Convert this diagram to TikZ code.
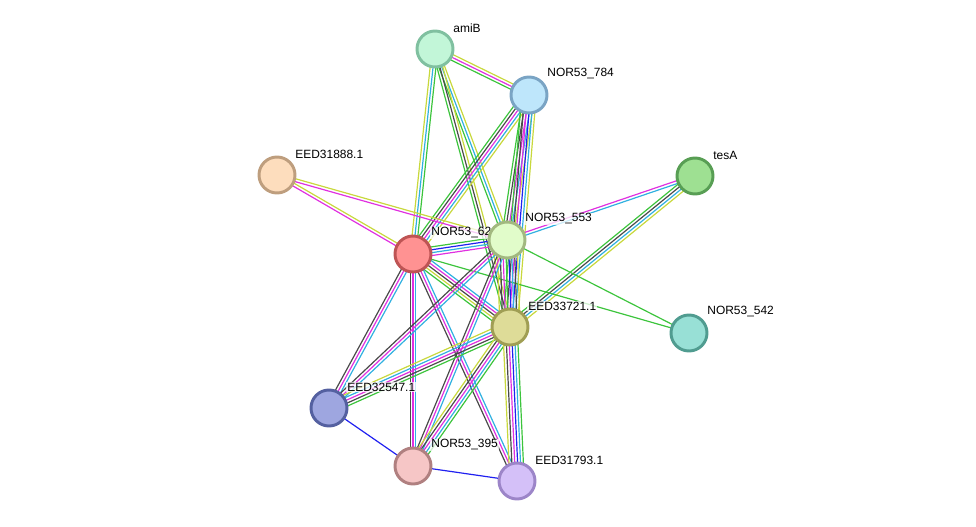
\documentclass[tikz,border=0pt]{standalone}
\usepackage{fontspec}
\setmainfont{Liberation Sans}
\usetikzlibrary{calc}

\definecolor{neigh}{HTML}{3CC43C}
\definecolor{cooc}{HTML}{2020F0}
\definecolor{dbase}{HTML}{30B0E0}
\definecolor{exper}{HTML}{E030E0}
\definecolor{txtm}{HTML}{C8D83C}
\definecolor{coex}{HTML}{4A4A4A}

\pgfdeclarelayer{edgelayer}
\pgfdeclarelayer{textlayer}
\pgfsetlayers{edgelayer,textlayer,main}

% one line per evidence colour, side by side
\newcommand{\strlink}[3]{%
    \foreach \c [count=\i] in {#3} {\xdef\nlines{\i}}%
    \foreach \c [count=\i] in {#3} {%
        \pgfmathsetmacro\off{(\i-(\nlines+1)/2)*2.05}%
        \draw[link, draw=\c] ($(#1)!\off pt!90:(#2)$) -- ($(#2)!\off pt!-90:(#1)$);}}

\newcommand{\protlabel}[2]{\node[lbl, anchor=west] (#1l) at ($(#1)+(17,-21)$) {#2};}

\begin{document}
\begin{tikzpicture}[
        x=0.025cm, y=-0.025cm,
        prot/.style={circle, draw, line width=2.1pt, minimum size=0.9cm, inner sep=0pt},
        lbl/.style={font=\fontsize{8.5}{10}\selectfont, fill=white, fill opacity=0.75,
            text opacity=1, inner sep=0.8pt},
        link/.style={line width=0.85pt}
    ]
    \useasboundingbox (0,0) rectangle (976,527);

    \node[prot, fill={rgb,255:red,194;green,246;blue,216}, draw={rgb,255:red,128;green,192;blue,160}] (amib) at (435,49) {};
    \node[prot, fill={rgb,255:red,190;green,230;blue,251}, draw={rgb,255:red,122;green,164;blue,196}] (n784) at (529,95) {};
    \node[prot, fill={rgb,255:red,253;green,221;blue,189}, draw={rgb,255:red,190;green,158;blue,126}] (e31888) at (277,175) {};
    \node[prot, fill={rgb,255:red,158;green,224;blue,146}, draw={rgb,255:red,88;green,158;blue,84}] (tesa) at (695,176) {};
    \node[prot, fill={rgb,255:red,255;green,146;blue,146}, draw={rgb,255:red,190;green,84;blue,84}] (n62) at (413,254) {};
    \node[prot, fill={rgb,255:red,225;green,252;blue,202}, draw={rgb,255:red,162;green,184;blue,128}] (n553) at (507,240) {};
    \node[prot, fill={rgb,255:red,222;green,220;blue,152}, draw={rgb,255:red,160;green,158;blue,84}] (e33721) at (510,327) {};
    \node[prot, fill={rgb,255:red,152;green,224;blue,214}, draw={rgb,255:red,80;green,156;blue,144}] (n542) at (689,333) {};
    \node[prot, fill={rgb,255:red,158;green,166;blue,224}, draw={rgb,255:red,84;green,96;blue,160}] (e32547) at (329,408) {};
    \node[prot, fill={rgb,255:red,246;green,198;blue,198}, draw={rgb,255:red,176;green,128;blue,128}] (n395) at (413,466) {};
    \node[prot, fill={rgb,255:red,212;green,192;blue,248}, draw={rgb,255:red,156;green,133;blue,200}] (e31793) at (517,481) {};

    \begin{pgfonlayer}{textlayer}
        \protlabel{amib}{amiB}
        \protlabel{n784}{NOR53\_784}
        \protlabel{e31888}{EED31888.1}
        \protlabel{tesa}{tesA}
        \protlabel{n62}{NOR53\_62}
        \protlabel{n553}{NOR53\_553}
        \protlabel{e33721}{EED33721.1}
        \protlabel{n542}{NOR53\_542}
        \protlabel{e32547}{EED32547.1}
        \protlabel{n395}{NOR53\_395}
        \protlabel{e31793}{EED31793.1}
    \end{pgfonlayer}

    \begin{pgfonlayer}{edgelayer}
        \strlink{amib}{n784}{neigh,exper,txtm}
        \strlink{amib}{n62}{txtm,dbase,neigh}
        \strlink{amib}{n553}{neigh,dbase,txtm}
        \strlink{amib}{e33721}{neigh,coex,txtm}
        \strlink{n784}{n62}{neigh,coex,exper,dbase,txtm}
        \strlink{n784}{n553}{neigh,coex,exper,dbase,txtm}
        \strlink{n784}{e33721}{neigh,coex,exper,cooc,dbase,txtm}
        \strlink{e31888}{n62}{exper,txtm}
        \strlink{e31888}{n553}{exper,txtm}
        \strlink{tesa}{n553}{exper,dbase}
        \strlink{tesa}{e33721}{neigh,coex,dbase,txtm}
        \strlink{n62}{n553}{exper,dbase,cooc,neigh}
        \strlink{n62}{n542}{neigh}
        \strlink{n553}{n542}{neigh}
        \strlink{n62}{e33721}{neigh,txtm,coex,exper,dbase}
        \strlink{n553}{e33721}{txtm,coex,exper,neigh,cooc,dbase,coex,txtm}
        \strlink{n62}{e32547}{coex,exper,dbase}
        \strlink{n62}{n395}{coex,exper,dbase}
        \strlink{n62}{e31793}{coex,exper,dbase}
        \strlink{n553}{e32547}{coex,exper,dbase}
        \strlink{n553}{n395}{coex,exper,dbase}
        \strlink{e33721}{e32547}{txtm,dbase,exper,coex,neigh}
        \strlink{e33721}{n395}{txtm,coex,exper,dbase,neigh}
        \strlink{e33721}{e31793}{txtm,coex,exper,cooc,dbase,neigh}
        \strlink{e32547}{n395}{cooc}
        \strlink{n395}{e31793}{cooc}
    \end{pgfonlayer}
\end{tikzpicture}
\end{document}
